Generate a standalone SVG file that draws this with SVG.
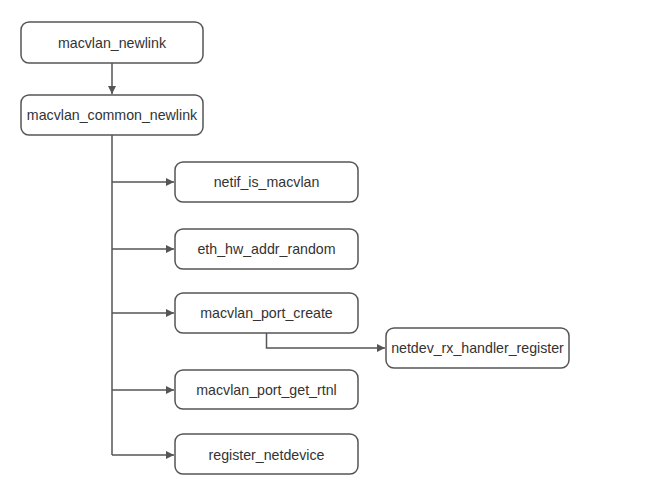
<svg xmlns="http://www.w3.org/2000/svg" width="648" height="489" viewBox="0 0 648 489">
<style>
.box{fill:#fff;stroke:#555;stroke-width:1.5}
.lbl{font-family:"Liberation Sans",Arial,sans-serif;font-size:14.2px;fill:#333;text-anchor:middle;dominant-baseline:central}
.conn{fill:none;stroke:#555;stroke-width:1.5}
</style>
<defs>
<marker id="arr" viewBox="0 0 10 10" refX="10" refY="5" markerWidth="8" markerHeight="8" markerUnits="userSpaceOnUse" orient="auto">
<path d="M0,0 L10,5 L0,10 z" fill="#555"/>
</marker>
</defs>
<rect width="648" height="489" fill="#fff"/>
<g id="connectors">
<path class="conn" d="M112,63 V94" marker-end="url(#arr)"/>
<path class="conn" d="M112,135 V455"/>
<path class="conn" d="M112,182 H174" marker-end="url(#arr)"/>
<path class="conn" d="M112,249 H174" marker-end="url(#arr)"/>
<path class="conn" d="M112,313 H174" marker-end="url(#arr)"/>
<path class="conn" d="M112,390 H174" marker-end="url(#arr)"/>
<path class="conn" d="M112,455 H174" marker-end="url(#arr)"/>
<path class="conn" d="M266.5,333 V348 H385" marker-end="url(#arr)"/>
</g>
<g id="macvlan_newlink"><rect class="box" x="21" y="22" width="182" height="41" rx="8"/><text class="lbl" x="112" y="43">macvlan_newlink</text></g>
<g id="macvlan_common_newlink"><rect class="box" x="21" y="95" width="182" height="40" rx="8"/><text class="lbl" x="112" y="115">macvlan_common_newlink</text></g>
<g id="netif_is_macvlan"><rect class="box" x="175" y="162" width="183" height="40" rx="8"/><text class="lbl" x="266.5" y="182">netif_is_macvlan</text></g>
<g id="eth_hw_addr_random"><rect class="box" x="175" y="229" width="183" height="40" rx="8"/><text class="lbl" x="266.5" y="249">eth_hw_addr_random</text></g>
<g id="macvlan_port_create"><rect class="box" x="175" y="293" width="183" height="40" rx="8"/><text class="lbl" x="266.5" y="313">macvlan_port_create</text></g>
<g id="netdev_rx_handler_register"><rect class="box" x="386" y="328" width="183" height="40" rx="8"/><text class="lbl" x="477.5" y="348">netdev_rx_handler_register</text></g>
<g id="macvlan_port_get_rtnl"><rect class="box" x="175" y="370" width="183" height="39" rx="8"/><text class="lbl" x="266.5" y="390">macvlan_port_get_rtnl</text></g>
<g id="register_netdevice"><rect class="box" x="175" y="434" width="183" height="40" rx="8"/><text class="lbl" x="266.5" y="455">register_netdevice</text></g>
</svg>
